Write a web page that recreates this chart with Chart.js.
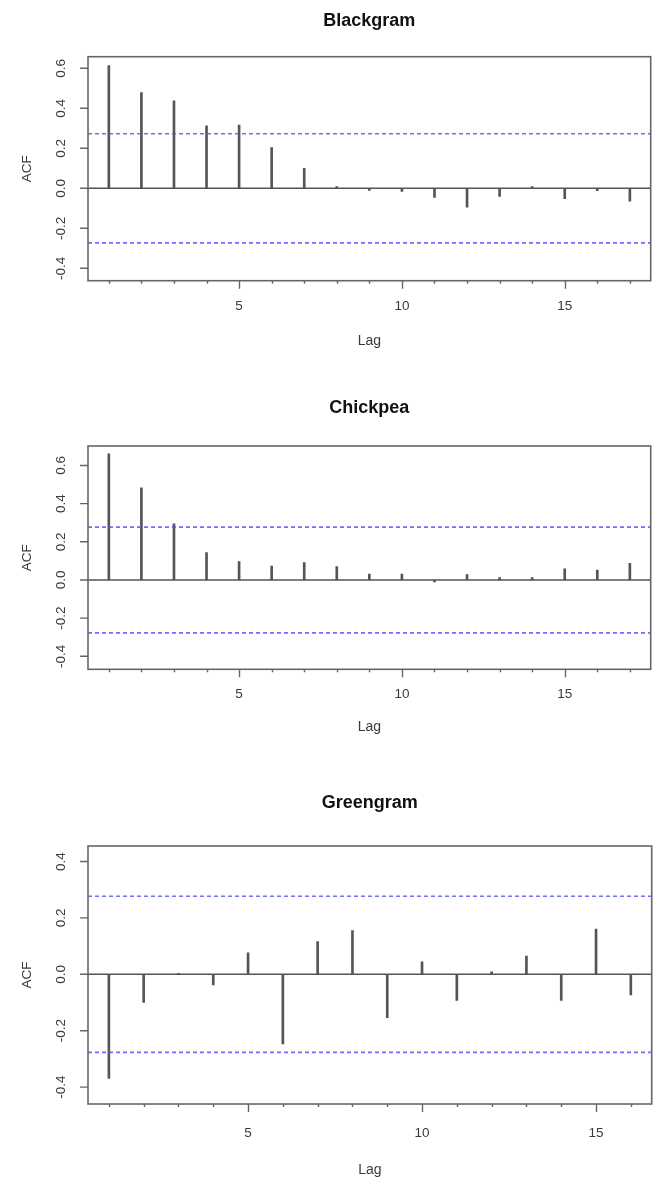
<!DOCTYPE html>
<html>
<head>
<meta charset="utf-8">
<title>ACF - Blackgram, Chickpea, Greengram</title>
<script src="https://cdn.jsdelivr.net/npm/chart.js@4.4.1/dist/chart.umd.min.js"></script>
<style>
  body { margin: 0; background: #fff; }
  #wrap { width: 657px; }
  canvas { display: block; }
</style>
</head>
<body>
<div id="wrap">
  <canvas id="blackgram" width="657" height="390"></canvas>
  <canvas id="chickpea" width="657" height="390"></canvas>
  <canvas id="greengram" width="657" height="400"></canvas>
</div>
<script>
// autocorrelation by lag for each pulse
const blackgramLags = [1, 2, 3, 4, 5, 6, 7, 8, 9, 10, 11, 12, 13, 14, 15, 16, 17];
const blackgramAcf = [0.613, 0.479, 0.437, 0.312, 0.316, 0.203, 0.100, 0.008, -0.010, -0.015,
                      -0.045, -0.094, -0.040, 0.008, -0.052, -0.012, -0.064];
const blackgramClim = 0.273;

const chickpeaLags = [1, 2, 3, 4, 5, 6, 7, 8, 9, 10, 11, 12, 13, 14, 15, 16, 17];
const chickpeaAcf = [0.661, 0.483, 0.294, 0.143, 0.096, 0.073, 0.091, 0.070, 0.031, 0.031,
                     -0.010, 0.028, 0.012, 0.012, 0.059, 0.052, 0.087];
const chickpeaClim = 0.277;

const greengramLags = [1, 2, 3, 4, 5, 6, 7, 8, 9, 10, 11, 12, 13, 14, 15, 16];
const greengramAcf = [-0.369, -0.100, 0.003, -0.038, 0.076, -0.247, 0.116, 0.155, -0.154, 0.044,
                      -0.093, 0.009, 0.065, -0.093, 0.160, -0.073];
const greengramClim = 0.277;

const wideYTicks = [-0.4, -0.2, 0.0, 0.2, 0.4, 0.6];
const narrowYTicks = [-0.4, -0.2, 0.0, 0.2, 0.4];
const lagTickLabels = [5, 10, 15];

const FONT = '"Liberation Sans", Arial, sans-serif';

// draws the R-style box, tick marks, tick labels and titles
function rAxes(p) {
  return {
    id: 'rAxes',
    afterDraw(chart) {
      const { ctx, chartArea: a, scales: { x, y } } = chart;
      ctx.save();
      ctx.strokeStyle = '#666';
      ctx.lineWidth = 1.6;
      ctx.strokeRect(a.left, a.top, a.right - a.left, a.bottom - a.top);

      ctx.lineWidth = 1.4;
      ctx.beginPath();
      p.lags.forEach(l => {
        const px = Math.round(x.getPixelForValue(l)) + 0.5;
        const len = p.xLabels.includes(l) ? 8 : 3;
        ctx.moveTo(px, a.bottom);
        ctx.lineTo(px, a.bottom + len);
      });
      p.yTicks.forEach(v => {
        const py = y.getPixelForValue(v);
        ctx.moveTo(a.left - 8, py);
        ctx.lineTo(a.left, py);
      });
      ctx.stroke();

      ctx.fillStyle = '#3a3a3a';
      ctx.textAlign = 'center';
      ctx.textBaseline = 'middle';
      ctx.font = '13.5px ' + FONT;
      p.xLabels.forEach(l => ctx.fillText(String(l), x.getPixelForValue(l), a.bottom + p.tickGap));
      p.yTicks.forEach(v => {
        ctx.save();
        ctx.translate(a.left - 27, y.getPixelForValue(v));
        ctx.rotate(-Math.PI / 2);
        ctx.fillText(v.toFixed(1), 0, 0);
        ctx.restore();
      });

      const cx = (a.left + a.right) / 2;
      ctx.font = '14px ' + FONT;
      ctx.fillText('Lag', cx, a.bottom + p.lagGap);
      ctx.save();
      ctx.translate(27, (a.top + a.bottom) / 2);
      ctx.rotate(-Math.PI / 2);
      ctx.font = '13.5px ' + FONT;
      ctx.fillText('ACF', 0, 0);
      ctx.restore();

      ctx.fillStyle = '#111';
      ctx.textBaseline = 'alphabetic';
      ctx.font = 'bold 18px ' + FONT;
      ctx.fillText(p.title, cx, p.titleY);
      ctx.restore();
    }
  };
}

function hline(xr, yv, color, dash, width) {
  return {
    type: 'line',
    data: [{ x: xr[0], y: yv }, { x: xr[1], y: yv }],
    borderColor: color,
    borderWidth: width,
    borderDash: dash,
    pointRadius: 0,
    fill: false
  };
}

function acfChart(p) {
  const blue = 'rgba(85, 85, 255, 0.85)';
  new Chart(document.getElementById(p.id), {
    type: 'bar',
    data: {
      datasets: [
        hline(p.xRange, 0, '#555', [], 1.6),
        hline(p.xRange, p.clim, blue, [4, 3], 1.6),
        hline(p.xRange, -p.clim, blue, [4, 3], 1.6),
        {
          type: 'bar',
          data: p.lags.map((l, i) => ({ x: l, y: p.acf[i] })),
          backgroundColor: '#555',
          barThickness: 2,
          borderWidth: 0
        }
      ]
    },
    options: {
      responsive: false,
      animation: false,
      events: [],
      layout: { padding: p.pad },
      plugins: { legend: { display: false }, tooltip: { enabled: false } },
      scales: {
        x: { type: 'linear', min: p.xRange[0], max: p.xRange[1], offset: false, display: false, grid: { offset: false } },
        y: { type: 'linear', min: p.yRange[0], max: p.yRange[1], display: false }
      }
    },
    plugins: [rAxes(p)]
  });
}

acfChart({
  id: 'blackgram', title: 'Blackgram',
  lags: blackgramLags, acf: blackgramAcf, clim: blackgramClim,
  yTicks: wideYTicks, xLabels: lagTickLabels,
  pad: { left: 88, top: 56.7, right: 6.3, bottom: 109.3 },
  xRange: [0.36, 17.64], yRange: [-0.462, 0.658],
  titleY: 26, tickGap: 25.3, lagGap: 60
});

acfChart({
  id: 'chickpea', title: 'Chickpea',
  lags: chickpeaLags, acf: chickpeaAcf, clim: chickpeaClim,
  yTicks: wideYTicks, xLabels: lagTickLabels,
  pad: { left: 88, top: 56, right: 6.3, bottom: 110.7 },
  xRange: [0.36, 17.64], yRange: [-0.468, 0.702],
  titleY: 23, tickGap: 25, lagGap: 58
});

acfChart({
  id: 'greengram', title: 'Greengram',
  lags: greengramLags, acf: greengramAcf, clim: greengramClim,
  yTicks: narrowYTicks, xLabels: lagTickLabels,
  pad: { left: 88, top: 66, right: 5.3, bottom: 76 },
  xRange: [0.4, 16.6], yRange: [-0.46, 0.455],
  titleY: 28, tickGap: 29, lagGap: 66
});
</script>
</body>
</html>
